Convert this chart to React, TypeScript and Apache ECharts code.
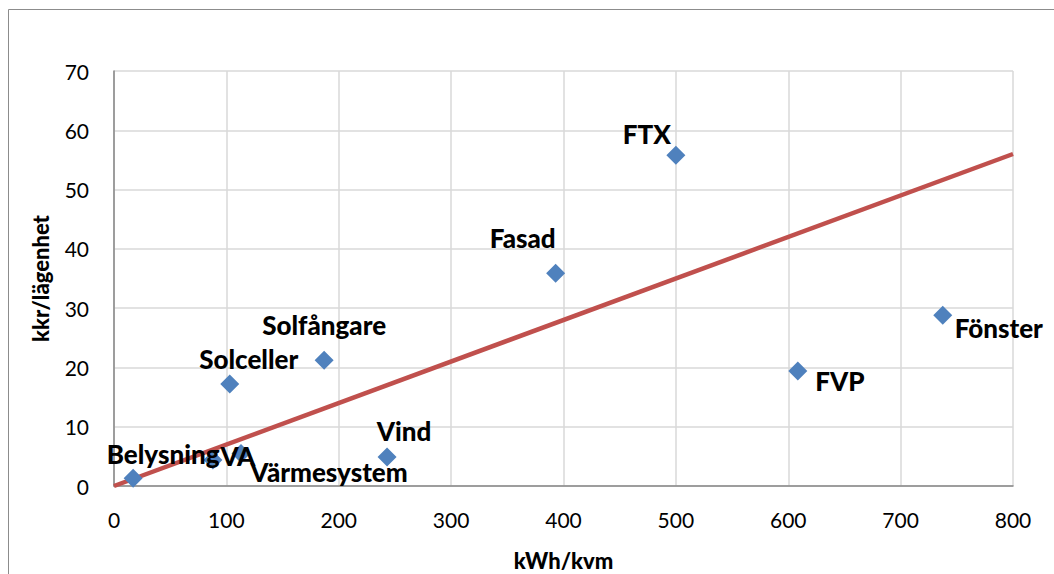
import React, { useEffect, useRef } from "react";
import * as echarts from "echarts";

const names = ["Belysning", "VA", "Värmesystem", "Solceller", "Solfångare", "Vind", "Fasad", "FTX", "FVP", "Fönster"];
const xValues = [17, 88, 113, 103, 187, 243, 393, 500, 608.5, 737.5];
const yValues = [1.3, 4.4, 5.5, 17.2, 21.2, 4.9, 35.9, 55.8, 19.4, 28.8];
// label offsets (px) of each label centre from its marker
const labelOffsets = [[30, -24], [25, -4], [88, 19], [19, -25], [0, -35], [17, -26], [-33, -35], [-29, -21], [42, 10], [56, 13]];
const trendX = [0, 800];
const trendY = [0, 56];
const xTicks = [0, 100, 200, 300, 400, 500, 600, 700, 800];
const yTicks = [0, 10, 20, 30, 40, 50, 60, 70];

const FONT = "Lato";

export default function App() {
  const ref = useRef<HTMLDivElement>(null);
  useEffect(() => {
    if (!ref.current) return;
    const chart = echarts.init(ref.current, null, { renderer: "svg" });
    const pts = names.map((n, i) => ({
      value: [xValues[i], yValues[i]],
      name: n,
      label: {
        show: true,
        formatter: n,
        position: "inside",
        offset: labelOffsets[i],
        align: "center",
        verticalAlign: "middle",
        fontFamily: FONT,
        fontWeight: 900,
        fontSize: 26,
        color: "#000",
      },
    }));
    chart.setOption({
      animation: false,
      backgroundColor: "#fff",
      grid: { left: 114, right: 41, top: 71, bottom: 88, containLabel: false, outerBoundsMode: "none" },
      xAxis: {
        type: "value",
        min: xTicks[0],
        max: xTicks[xTicks.length - 1],
        interval: 100,
        name: "kWh/kvm",
        nameLocation: "middle",
        nameGap: 63,
        nameTextStyle: { fontFamily: FONT, fontWeight: 900, fontSize: 22, color: "#000" },
        axisLine: { show: true, lineStyle: { color: "#868686", width: 1.5 } },
        axisTick: { show: false },
        axisLabel: { fontFamily: FONT, fontSize: 21, color: "#000", margin: 23 },
        splitLine: { show: true, lineStyle: { color: "#d9d9d9", width: 1.5 } },
      },
      yAxis: {
        type: "value",
        min: yTicks[0],
        max: yTicks[yTicks.length - 1],
        interval: 10,
        name: "kkr/lägenhet",
        nameLocation: "middle",
        nameGap: 63,
        nameRotate: 90,
        nameTextStyle: { fontFamily: FONT, fontWeight: 900, fontSize: 22, color: "#000" },
        axisLine: { show: true, lineStyle: { color: "#868686", width: 1.5 } },
        axisTick: { show: false },
        axisLabel: { fontFamily: FONT, fontSize: 21, color: "#000", margin: 25 },
        splitLine: { show: true, lineStyle: { color: "#d9d9d9", width: 1.5 } },
      },
      graphic: [
        {
          type: "rect",
          shape: { x: 8.5, y: 9.5, width: 1100, height: 700 },
          style: { fill: "none", stroke: "#8c8c8c", lineWidth: 1 },
          silent: true,
        },
      ],
      series: [
        {
          type: "line",
          data: trendX.map((x, i) => [x, trendY[i]]),
          symbol: "none",
          lineStyle: { color: "#c0504d", width: 4.5 },
          z: 2,
        },
        {
          type: "scatter",
          data: pts,
          symbol: "diamond",
          symbolSize: 19,
          itemStyle: { color: "#4f81bd", opacity: 1 },
          z: 3,
        },
      ],
    });
    return () => chart.dispose();
  }, []);
  return <div ref={ref} style={{ position: "fixed", left: 0, top: 0, width: 1054, height: 574 }} />;
}
